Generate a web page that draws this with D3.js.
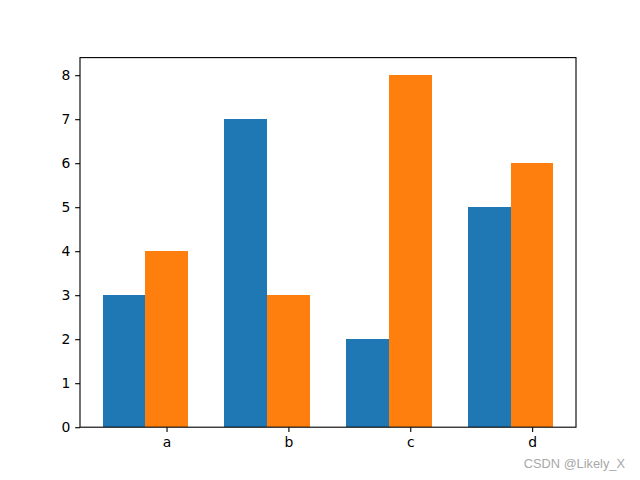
<!DOCTYPE html>
<html><head><meta charset="utf-8">
<script src="https://cdn.jsdelivr.net/npm/d3@7"></script>
<style>body{margin:0;background:#fff}</style>
</head><body>
<script>
const categories = ["a","b","c","d"];
const series1 = [3,7,2,5];
const series2 = [4,3,8,6];
const yTicks = [0,1,2,3,4,5,6,7,8];
const barWidth = 0.35;

const W=640,H=480;
const m={left:80,right:576,top:57.6,bottom:427.2};
const svg=d3.select("body").append("svg").attr("width",W).attr("height",H)
  .style("font-family","DejaVu Sans").style("display","block");
svg.append("rect").attr("width",W).attr("height",H).attr("fill","#fff");

const xmin=-barWidth/2, xmax=(categories.length-1)+barWidth*1.5;
const pad=(xmax-xmin)*0.05;
const x=d3.scaleLinear().domain([xmin-pad,xmax+pad]).range([m.left,m.right]);
const y=d3.scaleLinear().domain([0,8*1.05]).range([m.bottom,m.top]);

const g=svg.append("g").attr("shape-rendering","crispEdges");
g.selectAll(".b1").data(series1).enter().append("rect")
  .attr("x",(d,i)=>x(i-barWidth/2)).attr("width",(d,i)=>x(i+barWidth/2)-x(i-barWidth/2))
  .attr("y",d=>y(d)).attr("height",d=>y(0)-y(d)).attr("fill","#1f77b4");
g.selectAll(".b2").data(series2).enter().append("rect")
  .attr("x",(d,i)=>x(i+barWidth/2)).attr("width",(d,i)=>x(i+barWidth*1.5)-x(i+barWidth/2))
  .attr("y",d=>y(d)).attr("height",d=>y(0)-y(d)).attr("fill","#ff7f0e");

const tk=4.86, tp=4.86;
const xa=d3.axisBottom(x).tickValues(categories.map((c,i)=>i+barWidth))
  .tickFormat((d,i)=>categories[i]).tickSizeOuter(0).tickSize(tk).tickPadding(tp);
const xg=svg.append("g").attr("transform",`translate(0,${m.bottom})`).call(xa);
const ya=d3.axisLeft(y).tickValues(yTicks).tickFormat(d3.format("d")).tickSizeOuter(0).tickSize(tk).tickPadding(tp);
const yg=svg.append("g").attr("transform",`translate(${m.left},0)`).call(ya);
[xg,yg].forEach(a=>{a.select(".domain").remove();a.selectAll("text").attr("font-size",13.9).attr("fill","#000").style("font-family","DejaVu Sans");a.selectAll("line").attr("stroke","#000").attr("stroke-width",1.11);});

svg.append("rect").attr("x",m.left).attr("y",m.top).attr("width",m.right-m.left).attr("height",m.bottom-m.top)
  .attr("fill","none").attr("stroke","#000").attr("stroke-width",1.11);

svg.append("text").attr("x",625).attr("y",468).attr("text-anchor","end")
  .attr("font-size",12.8).attr("fill","#a8a8a8").style("font-family","Arial, Liberation Sans").text("CSDN @Likely_X");
</script>
</body></html>
